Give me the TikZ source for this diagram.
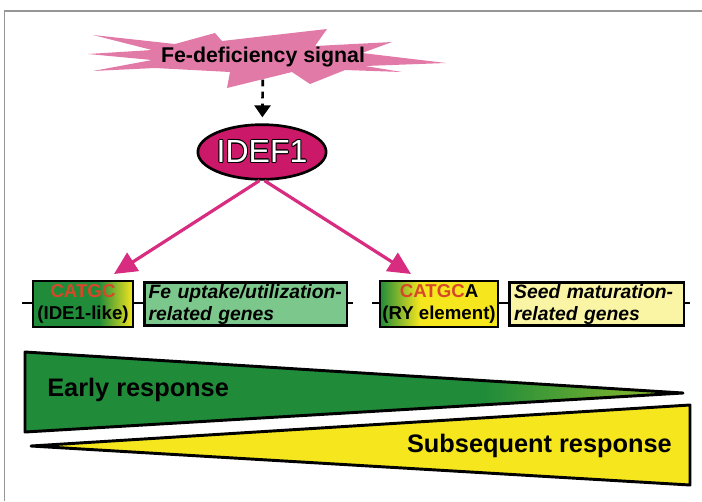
\documentclass[tikz,border=0pt]{standalone}
\usepackage{fontspec}
\setmainfont{Liberation Sans}
\usepackage{contour}
\contourlength{0.6pt}
\usetikzlibrary{shapes.geometric, arrows.meta, positioning}

\definecolor{burstpink}{RGB}{226,122,168}
\definecolor{idefmag}{RGB}{204,24,104}
\definecolor{arrowmag}{RGB}{216,44,128}
\definecolor{dkgreen}{RGB}{32,140,58}
\definecolor{ltgreen}{RGB}{124,200,140}
\definecolor{ryellow}{RGB}{245,230,30}
\definecolor{ltyellow}{RGB}{250,245,165}
\definecolor{motifred}{RGB}{214,72,40}
\definecolor{framegray}{RGB}{150,150,150}
\colorlet{tipgreen}{ryellow!55!dkgreen}

\pgfdeclarehorizontalshading{earlyshade}{100bp}{color(0bp)=(dkgreen); color(25bp)=(dkgreen); color(60bp)=(dkgreen); color(75bp)=(tipgreen); color(100bp)=(tipgreen)}
\pgfdeclarehorizontalshading{ideshade}{100bp}{color(0bp)=(dkgreen); color(25bp)=(dkgreen); color(58bp)=(dkgreen); color(75bp)=(ryellow); color(100bp)=(ryellow)}
\pgfdeclarehorizontalshading{ryshade}{100bp}{color(0bp)=(dkgreen); color(25bp)=(dkgreen); color(42bp)=(ryellow); color(100bp)=(ryellow)}

\tikzstyle{motifbox} = [rectangle, draw=black, line width=1.9pt, minimum width=75pt, minimum height=34.5pt, inner sep=1pt, align=center, font=\fontsize{14}{16.5}\selectfont\bfseries]
\tikzstyle{genebox} = [rectangle, draw=black, line width=1.9pt, minimum height=31pt, inner xsep=3pt, inner ysep=1pt, align=left, font=\fontsize{14.5}{16.5}\selectfont\bfseries\itshape]
\tikzstyle{sigarrow} = [line width=2pt, dash pattern=on 5pt off 4pt, -{Triangle[length=9pt, width=12pt]}]
\tikzstyle{pinkarrow} = [line width=2.4pt, draw=arrowmag, fill=arrowmag, -{Triangle[length=17pt, width=16pt]}]
\tikzstyle{geneline} = [line width=2pt]
\tikzstyle{wedge} = [draw=black, line width=2.2pt, line join=round]
\tikzstyle{resp} = [inner sep=0pt, font=\fontsize{19}{22}\selectfont\bfseries]

\begin{document}
\begin{tikzpicture}[x=0.75pt, y=-0.75pt]
\useasboundingbox (0,0) rectangle (702,501);
\draw[framegray, line width=1.2pt] (4.5,501) -- (4.5,11) -- (702,11);

% signal burst
\fill[burstpink] (88,54) -- (152,50) -- (93,35) -- (175,44) -- (215,33) -- (222,41) -- (327,29) -- (315,46) -- (392,42) -- (362,53) -- (446,63) -- (365,66) -- (402,72) -- (345,70) -- (310,84) -- (292,72) -- (227,88) -- (230,72) -- (155,68) -- (93,71) -- (152,60) -- cycle;
\node (signal) at (263,57) [font=\fontsize{16}{19}\selectfont\bfseries] {Fe-deficiency signal};

\node (idef) at (262,152) [ellipse, draw=black, line width=2pt, fill=idefmag, minimum width=75pt, minimum height=41pt, inner sep=0pt, text=white, font=\fontsize{24}{24}\selectfont] {\contour{black}{IDEF1}};

\draw [sigarrow, shorten <=6pt, shorten >=4.5pt] (signal) -- (idef);

% promoter lines
\coordinate (lineA) at (22,303);
\coordinate (lineB) at (353,303);
\coordinate (lineC) at (372,303);
\coordinate (lineD) at (690,303);
\draw [geneline] (lineA) -- (lineB);
\draw [geneline] (lineC) -- (lineD);

\node (ide) at (83,304) [motifbox, shading=ideshade] {\textcolor{motifred}{CATGC}\\(IDE1-like)};
\node (fegenes) [genebox, fill=ltgreen, text width=146pt, right=6.75pt of ide] {Fe uptake/utilization-\\related genes};
\node (ry) at (439,304) [motifbox, minimum width=88.5pt, shading=ryshade] {\textcolor{motifred}{CATGC}A\\(RY element)};
\node (seedgenes) [genebox, fill=ltyellow, inner xsep=3.5pt, text width=124pt, right=6.75pt of ry] {Seed maturation-\\related genes};

\coordinate (tipL) at (114,274);
\coordinate (tipR) at (411,274);
\draw [pinkarrow] (idef.265) -- (tipL);
\draw [pinkarrow] (idef.275) -- (tipR);

% response wedges
\draw [wedge, shading=earlyshade] (25,352) -- (683,393) -- (25,432) -- cycle;
\draw [wedge, fill=ryellow] (31,446) -- (690,405) -- (690,485) -- cycle;
\node (early) at (47,390) [resp, anchor=west] {Early response};
\node (later) at (672,446) [resp, anchor=east] {Subsequent response};

\end{tikzpicture}
\end{document}
